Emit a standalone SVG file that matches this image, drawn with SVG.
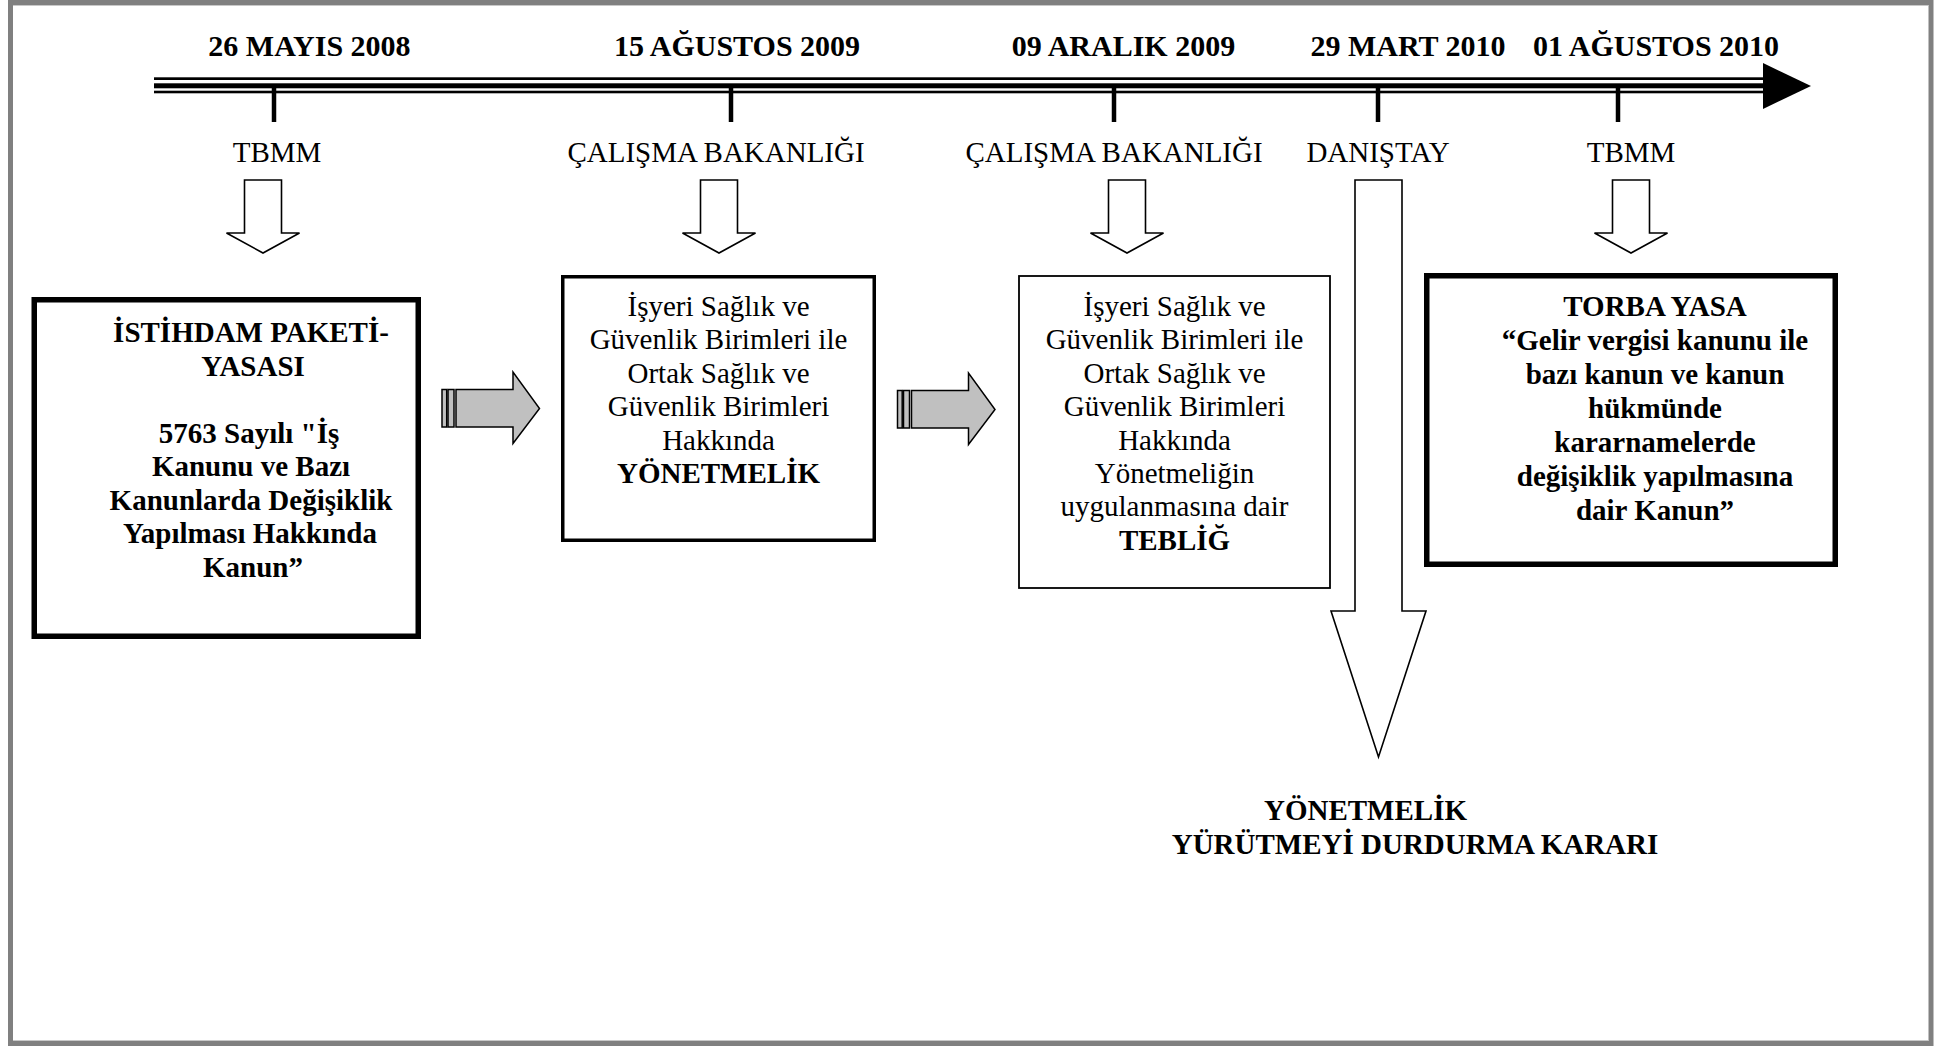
<svg xmlns="http://www.w3.org/2000/svg" width="1948" height="1046" viewBox="0 0 1948 1046">
<style>
  .date{font-family:"Liberation Serif","Times New Roman",serif;font-size:30px;font-weight:bold;text-anchor:middle;fill:#000}
  .agency{font-family:"Liberation Serif","Times New Roman",serif;font-size:29px;text-anchor:middle;fill:#000}
  .bt{font-family:"Liberation Serif","Times New Roman",serif;font-size:29px;text-anchor:middle;fill:#000}
  .b{font-weight:bold}
  .box{fill:#fff;stroke:#000}
  .hollow{fill:#fff;stroke:#000;stroke-width:1.6;stroke-linejoin:miter}
  .gray{fill:#c0c0c0;stroke:#000;stroke-width:1.5;stroke-linejoin:miter}
  .tick{stroke:#000;stroke-width:4.5}
</style>
<rect x="0" y="0" width="1948" height="1046" fill="#fff"/>
<g id="frame">
  <rect x="10.5" y="2.5" width="1920.5" height="1041" fill="none" stroke="#808080" stroke-width="5"/>
  <line x1="13" y1="5.5" x2="1928" y2="5.5" stroke="#c8c8c8" stroke-width="1"/>
  <line x1="13" y1="1040.5" x2="1928" y2="1040.5" stroke="#c8c8c8" stroke-width="1"/>
</g>
<g id="timeline">
  <rect x="154" y="77.3" width="1612" height="2.7" fill="#000"/>
  <rect x="154" y="83.3" width="1612" height="5" fill="#000"/>
  <rect x="154" y="90.7" width="1612" height="2.6" fill="#000"/>
  <polygon points="1763,63 1811,86 1763,109" fill="#000"/>
  <line class="tick" x1="274" y1="85" x2="274" y2="122"/>
  <line class="tick" x1="731" y1="85" x2="731" y2="122"/>
  <line class="tick" x1="1114" y1="85" x2="1114" y2="122"/>
  <line class="tick" x1="1378" y1="85" x2="1378" y2="122"/>
  <line class="tick" x1="1618" y1="85" x2="1618" y2="122"/>
  <text class="date" x="309.5" y="55.5">26 MAYIS 2008</text>
  <text class="date" x="737" y="55.5">15 AĞUSTOS 2009</text>
  <text class="date" x="1123.5" y="55.5">09 ARALIK 2009</text>
  <text class="date" x="1408" y="55.5">29 MART 2010</text>
  <text class="date" x="1656" y="55.5">01 AĞUSTOS 2010</text>
</g>
<g id="agencies">
  <text class="agency" x="277" y="162">TBMM</text>
  <text class="agency" x="716" y="162">ÇALIŞMA BAKANLIĞI</text>
  <text class="agency" x="1114" y="162">ÇALIŞMA BAKANLIĞI</text>
  <text class="agency" x="1378" y="162">DANIŞTAY</text>
  <text class="agency" x="1631" y="162">TBMM</text>
</g>
<g id="connectors">
  <polygon class="hollow" points="244.5,180 281.5,180 281.5,233 299.5,233 263,253 226.5,233 244.5,233"/>
  <polygon class="hollow" points="700.5,180 737.5,180 737.5,233 755.5,233 719,253 682.5,233 700.5,233"/>
  <polygon class="hollow" points="1108.5,180 1145.5,180 1145.5,233 1163.5,233 1127,253 1090.5,233 1108.5,233"/>
  <polygon class="hollow" points="1612.5,180 1649.5,180 1649.5,233 1667.5,233 1631,253 1594.5,233 1612.5,233"/>
  <polygon class="hollow" points="1355,180 1402,180 1402,611 1426,611 1378.5,757 1331,611 1355,611"/>
  <g id="gray-arrow-1">
    <rect class="gray" x="442" y="389.5" width="4.7" height="37.5"/>
    <rect class="gray" x="448" y="389.5" width="6" height="37.5"/>
    <polygon class="gray" points="456,389.5 513,389.5 513,372 539.5,408.5 513,443.5 513,427 456,427"/>
  </g>
  <g id="gray-arrow-2">
    <rect class="gray" x="897.5" y="390.5" width="4.7" height="37.5"/>
    <rect class="gray" x="903.5" y="390.5" width="6" height="37.5"/>
    <polygon class="gray" points="911.5,390.5 968.5,390.5 968.5,373 995,409.5 968.5,444.5 968.5,428 911.5,428"/>
  </g>
</g>
<g id="node-istihdam">
  <rect class="box" x="34.25" y="299.75" width="384" height="336.5" stroke-width="5.5"/>
  <text class="bt b" x="251" y="342">İSTİHDAM PAKETİ-</text>
  <text class="bt b" x="253" y="375.5">YASASI</text>
  <text class="bt b" x="249" y="442.5">5763 Sayılı "İş</text>
  <text class="bt b" x="251" y="476">Kanunu ve Bazı</text>
  <text class="bt b" x="251" y="509.5">Kanunlarda Değişiklik</text>
  <text class="bt b" x="250" y="543">Yapılması Hakkında</text>
  <text class="bt b" x="253" y="576.5">Kanun”</text>
</g>
<g id="node-yonetmelik">
  <rect class="box" x="562.75" y="276.75" width="311.5" height="263.5" stroke-width="3.5"/>
  <text class="bt" x="718.5" y="316">İşyeri Sağlık ve</text>
  <text class="bt" x="718.5" y="349.4">Güvenlik Birimleri ile</text>
  <text class="bt" x="718.5" y="382.8">Ortak Sağlık ve</text>
  <text class="bt" x="718.5" y="416.2">Güvenlik Birimleri</text>
  <text class="bt" x="718.5" y="449.6">Hakkında</text>
  <text class="bt b" x="718.5" y="483">YÖNETMELİK</text>
</g>
<g id="node-teblig">
  <rect class="box" x="1019" y="276" width="311" height="312" stroke-width="1.8"/>
  <text class="bt" x="1174.5" y="316">İşyeri Sağlık ve</text>
  <text class="bt" x="1174.5" y="349.4">Güvenlik Birimleri ile</text>
  <text class="bt" x="1174.5" y="382.8">Ortak Sağlık ve</text>
  <text class="bt" x="1174.5" y="416.2">Güvenlik Birimleri</text>
  <text class="bt" x="1174.5" y="449.6">Hakkında</text>
  <text class="bt" x="1174.5" y="483">Yönetmeliğin</text>
  <text class="bt" x="1174.5" y="516.4">uygulanmasına dair</text>
  <text class="bt b" x="1174.5" y="549.8">TEBLİĞ</text>
</g>
<g id="node-torba">
  <rect class="box" x="1426.75" y="275.75" width="408.5" height="288.5" stroke-width="5.5"/>
  <text class="bt b" x="1655" y="316">TORBA YASA</text>
  <text class="bt b" x="1655" y="350">“Gelir vergisi kanunu ile</text>
  <text class="bt b" x="1655" y="384">bazı kanun ve kanun</text>
  <text class="bt b" x="1655" y="418">hükmünde</text>
  <text class="bt b" x="1655" y="452">kararnamelerde</text>
  <text class="bt b" x="1655" y="486">değişiklik yapılmasına</text>
  <text class="bt b" x="1655" y="520">dair Kanun”</text>
</g>
<g id="node-durdurma">
  <text class="bt b" x="1365.5" y="820">YÖNETMELİK</text>
  <text class="bt b" x="1415" y="854">YÜRÜTMEYİ DURDURMA KARARI</text>
</g>
</svg>
